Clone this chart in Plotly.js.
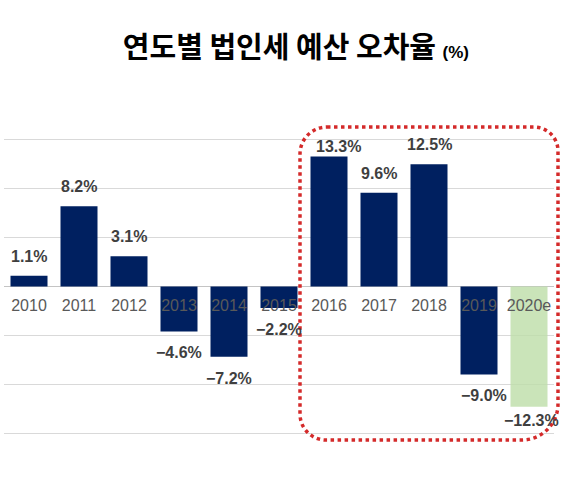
<!DOCTYPE html>
<html>
<head>
<meta charset="utf-8">
<script src="https://cdn.plot.ly/plotly-3.0.1.min.js"></script>
<style>html,body{margin:0;padding:0;background:#fff;}#chart{width:568px;height:483px;}</style>
</head>
<body>
<div id="chart"></div>
<script>
// ---- data ----
var years = ['2010','2011','2012','2013','2014','2015','2016','2017','2018','2019','2020e'];
var errorRates = [1.1, 8.2, 3.1, -4.6, -7.2, -2.2, 13.3, 9.6, 12.5, -9.0, -12.3];
var estimateYears = ['2020e'];
var titleText = '연도별 법인세 예산 오차율';
var unitText = '(%)';

// ---- layout constants (style, not data) ----
var W = 568, H = 483;
var M = {l: 4, r: 14, t: 135, b: 45};
var PW = W - M.l - M.r, PH = H - M.t - M.b;
var NAVY = '#002060', GREEN = 'rgba(190,222,170,0.82)';
var labelNudge = { '2016': {dx: 9, dy: -9}, '2019': {dx: 5, dy: 0}, '2020e': {dx: 2, dy: 8} };

function fmt(v) { return (v < 0 ? '\u2212' : '') + Math.abs(v).toFixed(1) + '%'; }
function px2x(p) { return (p - M.l) / PW; }
function px2y(p) { return 1 - (p - M.t) / PH; }

var idx = years.map(function (y, i) { return i; });
var colors = years.map(function (y) { return estimateYears.indexOf(y) >= 0 ? GREEN : NAVY; });

var trace = {
  type: 'bar',
  x: idx,
  y: errorRates,
  width: 0.74,
  marker: {color: colors, line: {width: 0}},
  hoverinfo: 'none'
};

var annotations = years.map(function (y, i) {
  var v = errorRates[i];
  var n = labelNudge[y] || {dx: 0, dy: 0};
  return {
    x: idx[i], y: v, xref: 'x', yref: 'y',
    text: '<b>' + fmt(v) + '</b>',
    showarrow: false,
    xanchor: 'center', yanchor: 'middle',
    xshift: n.dx,
    yshift: (v >= 0 ? 19.5 : -21.5) + n.dy,
    font: {family: 'Liberation Sans, Arial, sans-serif', size: 16, color: '#3f3f3f'}
  };
});

// rounded dotted rectangle around 2016-2020e
function roundedRect(x0, y0, x1, y1, rTL, rTR, rBR, rBL) {
  var k = 0.5523;
  function P(x, y) { return px2x(x).toFixed(5) + ',' + px2y(y).toFixed(5); }
  return 'M' + P(x0 + rTL, y0) +
    ' L' + P(x1 - rTR, y0) +
    ' C' + P(x1 - rTR + rTR * k, y0) + ' ' + P(x1, y0 + rTR - rTR * k) + ' ' + P(x1, y0 + rTR) +
    ' L' + P(x1, y1 - rBR) +
    ' C' + P(x1, y1 - rBR + rBR * k) + ' ' + P(x1 - rBR + rBR * k, y1) + ' ' + P(x1 - rBR, y1) +
    ' L' + P(x0 + rBL, y1) +
    ' C' + P(x0 + rBL - rBL * k, y1) + ' ' + P(x0, y1 - rBL + rBL * k) + ' ' + P(x0, y1 - rBL) +
    ' L' + P(x0, y0 + rTL) +
    ' C' + P(x0, y0 + rTL - rTL * k) + ' ' + P(x0 + rTL - rTL * k, y0) + ' ' + P(x0 + rTL, y0) + ' Z';
}

var layout = {
  width: W, height: H,
  margin: M,
  paper_bgcolor: '#ffffff',
  plot_bgcolor: '#ffffff',
  showlegend: false,
  title: {
    text: '<b>' + titleText + ' <span style="font-size:17px;font-family:Liberation Sans, Arial">' + unitText + '</span></b>',
    font: {family: 'Noto Sans CJK KR, sans-serif', size: 29, color: '#000000'},
    xref: 'container', yref: 'container',
    x: 0.521, xanchor: 'center',
    y: 1 - 48 / H, yanchor: 'middle'
  },
  xaxis: {
    range: [-0.5, 10.5],
    tickmode: 'array',
    tickvals: idx,
    ticktext: years,
    anchor: 'free', position: 0.5,
    showgrid: false, showline: false, zeroline: false,
    ticks: '',
    ticklabelstandoff: 7,
    tickfont: {family: 'Liberation Sans, Arial, sans-serif', size: 16, color: '#595959'},
    fixedrange: true
  },
  yaxis: {
    range: [-15.5, 15.5],
    dtick: 5, tick0: 0,
    showticklabels: false,
    ticks: '',
    showgrid: true, gridcolor: '#d9d9d9', gridwidth: 1,
    zeroline: true, zerolinecolor: '#c4c4c4', zerolinewidth: 1.5,
    showline: false,
    fixedrange: true
  },
  annotations: annotations,
  shapes: [{
    type: 'path',
    xref: 'paper', yref: 'paper',
    path: roundedRect(300, 127, 558, 440, 27, 24, 36, 26),
    line: {color: '#d42a2a', width: 3.5, dash: 'dot'},
    layer: 'above'
  }]
};

Plotly.newPlot('chart', [trace], layout, {displayModeBar: false, staticPlot: true});
</script>
</body>
</html>
